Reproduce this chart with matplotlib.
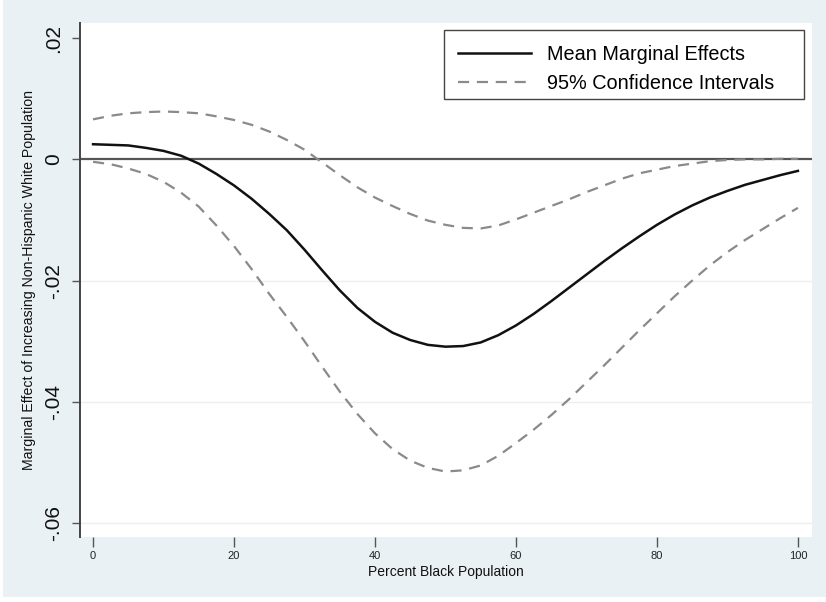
import matplotlib
matplotlib.use("Agg")
import matplotlib.pyplot as plt
from matplotlib.patches import Rectangle

# Percent Black population (x) and estimated marginal effects
pct_black = [0, 2.5, 5, 7.5, 10, 12.5, 15, 17.5, 20, 22.5, 25, 27.5, 30, 32.5,
             35, 37.5, 40, 42.5, 45, 47.5, 50, 52.5, 55, 57.5, 60, 62.5, 65,
             67.5, 70, 72.5, 75, 77.5, 80, 82.5, 85, 87.5, 90, 92.5, 95, 97.5,
             100]
mean_effect = [0.0025, 0.0024, 0.0023, 0.0019, 0.0014, 0.0006, -0.0007,
               -0.0024, -0.0043, -0.0065, -0.0090, -0.0117, -0.0149, -0.0183,
               -0.0216, -0.0245, -0.0268, -0.0286, -0.0298, -0.0306, -0.0309,
               -0.0308, -0.0302, -0.0290, -0.0274, -0.0255, -0.0234, -0.0212,
               -0.0190, -0.0168, -0.0147, -0.0127, -0.0108, -0.0091, -0.0076,
               -0.0063, -0.0052, -0.0042, -0.0034, -0.0026, -0.0019]
ci_lower = [-0.0004, -0.0008, -0.0015, -0.0024, -0.0037, -0.0055, -0.0078,
            -0.0109, -0.0143, -0.0181, -0.0222, -0.0260, -0.0300, -0.0342,
            -0.0383, -0.0420, -0.0452, -0.0478, -0.0497, -0.0509, -0.0515,
            -0.0513, -0.0505, -0.0489, -0.0468, -0.0446, -0.0422, -0.0396,
            -0.0368, -0.0340, -0.0311, -0.0282, -0.0254, -0.0226, -0.0200,
            -0.0175, -0.0153, -0.0133, -0.0115, -0.0097, -0.0080]
ci_upper = [0.0066, 0.0072, 0.0076, 0.0078, 0.0079, 0.0078, 0.0076, 0.0071,
            0.0065, 0.0057, 0.0046, 0.0032, 0.0016, -0.0005, -0.0026, -0.0046,
            -0.0063, -0.0077, -0.0090, -0.0101, -0.0108, -0.0113, -0.0114,
            -0.0109, -0.0099, -0.0088, -0.0077, -0.0066, -0.0054, -0.0043,
            -0.0032, -0.0023, -0.0017, -0.0011, -0.0007, -0.0003, -0.0001,
            0.0000, 0.0000, 0.0001, 0.0001]

x_ticks = [0, 20, 40, 60, 80, 100]
y_ticks = [0.02, 0.0, -0.02, -0.04, -0.06]
y_tick_labels = [".02", "0", "-.02", "-.04", "-.06"]

W, H = 826, 602
bg = "#eaf1f4"
fig = plt.figure(figsize=(W / 100, H / 100), dpi=100, facecolor=bg)
# thin white frame on the left and bottom edges
fig.patches.append(Rectangle((0, 0), 3 / W, 1, transform=fig.transFigure,
                             facecolor="white", edgecolor="none", zorder=-1))
fig.patches.append(Rectangle((0, 0), 1, 5 / H, transform=fig.transFigure,
                             facecolor="white", edgecolor="none", zorder=-1))

left, right, top, bottom = 80, 812, 23, 537
ax = fig.add_axes([left / W, 1 - bottom / H, (right - left) / W, (bottom - top) / H])
ax.set_facecolor("white")

ax.set_xlim(-1.85, 102.0)
ax.set_ylim(-0.0623, 0.0225)

font = ["Liberation Sans", "DejaVu Sans"]
narrow = ["Liberation Sans Narrow", "Liberation Sans", "DejaVu Sans"]

# light gridlines
for yv in [-0.02, -0.04, -0.06]:
    ax.axhline(yv, color="#eeeeee", lw=1.0, zorder=0)

# reference line at zero
ax.axhline(0, color="#555555", lw=1.6, zorder=1)

ax.plot(pct_black, mean_effect, color="#111111", lw=1.8,
        label="Mean Marginal Effects", zorder=3)
ax.plot(pct_black, ci_upper, color="#8a8a8a", lw=1.6, dashes=(5, 3.5),
        label="95% Confidence Intervals", zorder=2)
ax.plot(pct_black, ci_lower, color="#8a8a8a", lw=1.6, dashes=(5, 3.5), zorder=2)

for side in ["top", "right", "bottom"]:
    ax.spines[side].set_visible(False)
ax.spines["left"].set_color("#444444")
ax.spines["left"].set_linewidth(1.4)

ax.set_yticks(y_ticks)
ax.set_yticklabels(y_tick_labels, rotation=90, va="center", fontsize=15,
                   family=font, color="#111111")
ax.tick_params(axis="y", length=6, width=1.0, color="#555555", pad=6)

ax.set_xticks(x_ticks)
ax.set_xticklabels([str(v) for v in x_ticks], fontsize=8, family=narrow,
                   color="#222222")
ax.tick_params(axis="x", length=7, width=1.0, color="#555555", pad=3)

ax.set_ylabel("Marginal Effect of Increasing Non-Hispanic White Population",
              fontsize=10.2, family=narrow, color="#111111", labelpad=6)
ax.set_xlabel("Percent Black Population", fontsize=10, family=narrow,
              color="#111111", labelpad=3)

# legend: box spans x 444..804 px and y 30..99 px
def to_axes(px, py):
    return ((px - left) / (right - left), 1 - (py - top) / (bottom - top))

bx0, by1 = to_axes(444, 30)
bx1, by0 = to_axes(804, 99)
ax.add_patch(Rectangle((bx0, by0), bx1 - bx0, by1 - by0, transform=ax.transAxes,
                       facecolor="white", edgecolor="#444444", lw=1.0, zorder=4))

ax_, ay_ = to_axes(444, 31)
leg = ax.legend(loc="upper left", bbox_to_anchor=(ax_, ay_),
                frameon=False, prop={"family": font, "size": 14.3},
                handlelength=3.7, handletextpad=0.8, borderpad=0.7,
                labelspacing=0.5, borderaxespad=0)
leg.set_zorder(5)

fig.savefig("out.png", dpi=100, facecolor=bg)
